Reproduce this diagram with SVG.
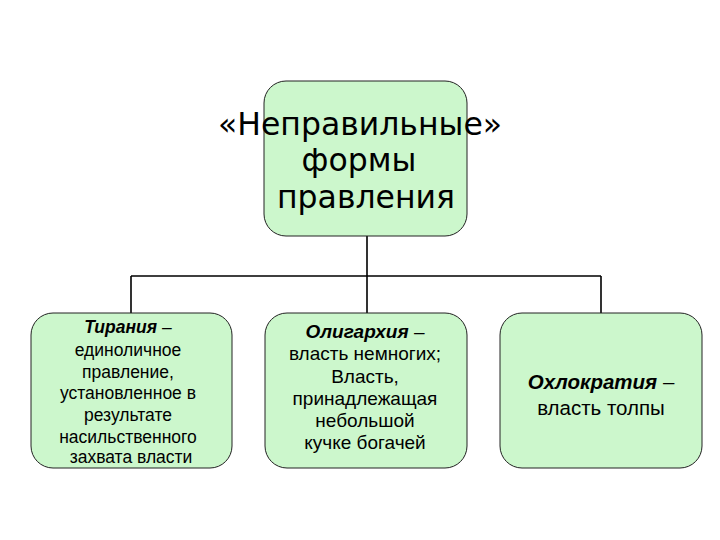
<svg xmlns="http://www.w3.org/2000/svg" width="720" height="540" viewBox="0 0 720 540">
<style>
.box{fill:#ccf7cc;stroke:#222;stroke-width:1}
.conn{stroke:#000;stroke-width:1.6;fill:none}
.main{font-family:"DejaVu Sans",sans-serif;font-size:31.5px;fill:#000;text-anchor:middle}
.t{font-family:"Liberation Sans",Arial,sans-serif;font-size:17.5px;fill:#000;text-anchor:middle}
.m{font-size:19px}
.r{font-size:20.5px}
.b{font-weight:bold;font-style:italic}
</style>
<rect width="720" height="540" fill="#fff"/>
<g id="connectors">
<path class="conn" d="M367 236 V276 M131 276 H601 M131 276 V313 M367 276 V313 M601 276 V313"/>
</g>
<g id="root">
<rect class="box" x="264" y="81" width="203" height="155" rx="22"/>
<text class="main" x="360" y="135">«Неправильные»</text>
<text class="main" x="359" y="171">формы</text>
<text class="main" x="366" y="208">правления</text>
</g>
<g id="tyranny">
<rect class="box" x="31" y="313" width="201" height="155" rx="22"/>
<text class="t" x="128" y="333"><tspan class="b">Тирания</tspan> –</text>
<text class="t" x="128" y="356">единоличное</text>
<text class="t" x="128" y="378">правление,</text>
<text class="t" x="128" y="399">установленное в</text>
<text class="t" x="128" y="421">результате</text>
<text class="t" x="128" y="443">насильственного</text>
<text class="t" x="131" y="463">захвата власти</text>
</g>
<g id="oligarchy">
<rect class="box" x="265" y="313" width="202" height="155" rx="22"/>
<text class="t m" x="365" y="338"><tspan class="b">Олигархия</tspan> –</text>
<text class="t m" x="365" y="360">власть немногих;</text>
<text class="t m" x="365" y="383">Власть,</text>
<text class="t m" x="365" y="405">принадлежащая</text>
<text class="t m" x="365" y="427">небольшой</text>
<text class="t m" x="365" y="449">кучке богачей</text>
</g>
<g id="ochlocracy">
<rect class="box" x="500" y="313" width="202" height="155" rx="22"/>
<text class="t r" x="601" y="389"><tspan class="b">Охлократия</tspan> –</text>
<text class="t r" x="601" y="415">власть толпы</text>
</g>
</svg>
